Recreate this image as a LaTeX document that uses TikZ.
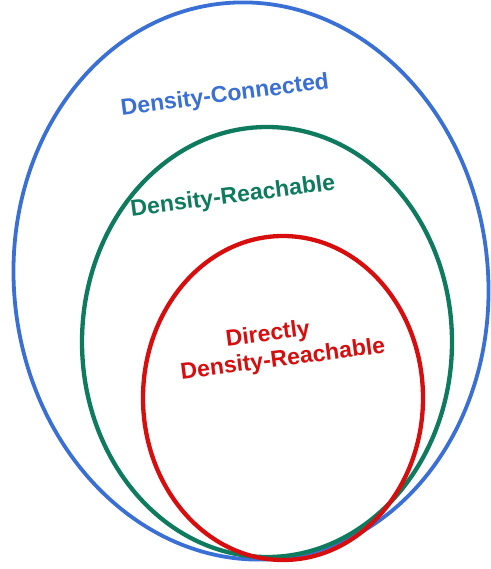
\documentclass[tikz,border=0pt]{standalone}
\usepackage{fontspec}
\setmainfont{Liberation Sans}
\definecolor{connblue}{HTML}{3A70D6}
\definecolor{reachgreen}{HTML}{0E7A5E}
\definecolor{directred}{HTML}{D80E0E}
\tikzset{
  setline/.style={line width=4.3pt},
  setlabel/.style={font=\bfseries\fontsize{23}{26}\selectfont, rotate=7.4, inner sep=0pt}
}
\begin{document}
\begin{tikzpicture}[x=1pt, y=-1pt]
  \useasboundingbox (0,0) rectangle (490,569);

  % Nested sets
  \draw[setline, line width=3.8pt, connblue] (251,281) ellipse [x radius=237, y radius=279, rotate=6];
  \draw[setline, reachgreen] (267,342) ellipse [x radius=185, y radius=215];
  \draw[setline, directred] (283,398) ellipse [x radius=140, y radius=162];

  % Labels
  \node[setlabel, text=connblue] (connected) at (225,96) {Density-Connected};
  \node[setlabel, text=reachgreen] (reachable) at (233,197) {Density-Reachable};
  \node[setlabel, text=directred] (directly) at (268,335) {Directly};
  \node[setlabel, text=directred] (direct) at (283,360) {Density-Reachable};
\end{tikzpicture}
\end{document}
